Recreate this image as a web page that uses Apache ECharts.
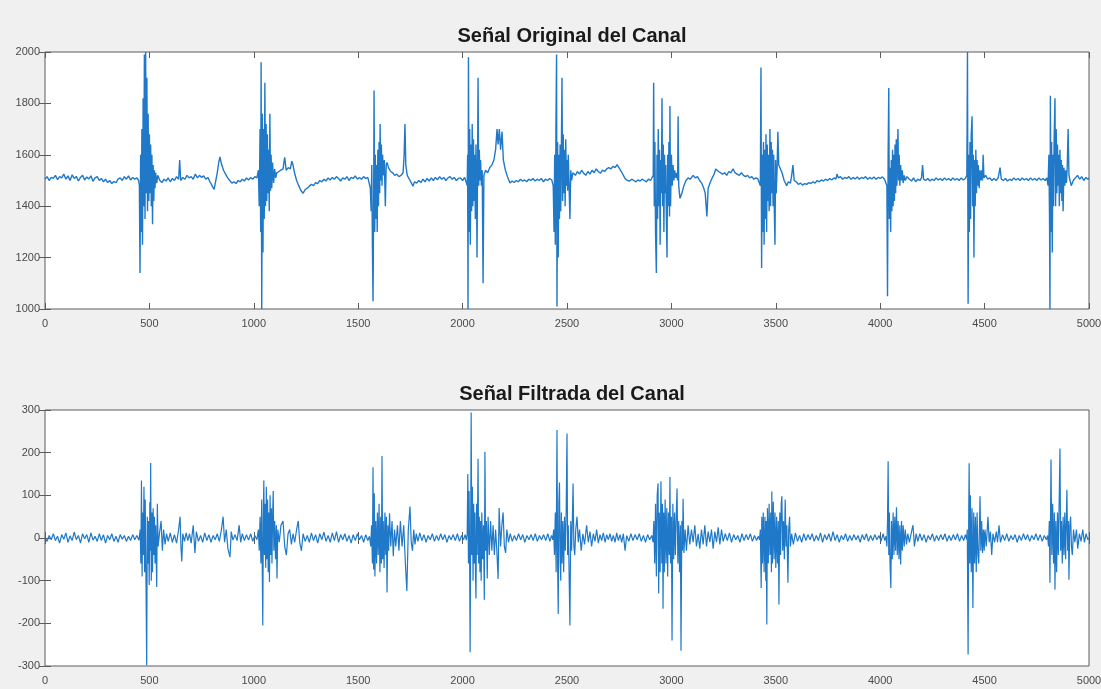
<!DOCTYPE html>
<html>
<head>
<meta charset="utf-8">
<script src="https://cdn.jsdelivr.net/npm/echarts@6/dist/echarts.min.js"></script>
<style>
html,body{margin:0;padding:0;background:#f0f0f0;}
#chart{width:1101px;height:689px;}
</style>
</head>
<body>
<div id="chart"></div>
<script>
const titles = ['Señal Original del Canal', 'Señal Filtrada del Canal'];
const xTicks = [0, 5000, 500];
const yTicksOriginal = [1000, 2000, 200];
const yTicksFiltered = [-300, 300, 100];

const originalSignal = [
[0,1505],[10,1515],[20,1500],[30,1512],[40,1508],[50,1520],[60,1503],[70,1515],[80,1510],[90,1525],[100,1505],[110,1518],[120,1500],[130,1522],[140,1508],[150,1516],[160,1498],[170,1512],[180,1520],[190,1502],[200,1514],[210,1506],[220,1518],[230,1497],[240,1510],[250,1515],[260,1500],[270,1508],[280,1495],[290,1505],[300,1492],[310,1500],[320,1488],[330,1496],[340,1492],[350,1505],[360,1510],[370,1500],[380,1515],[390,1505],[400,1518],[410,1502],[420,1512],[430,1505],[440,1510],[448,1500],
[452,1480],[455,1140],[458,1600],[461,1300],[464,1700],[467,1250],[470,1820],[473,1400],[476,1990],[479,1350],[482,2000],[485,1450],[488,1900],[491,1380],[494,1760],[497,1420],[500,1680],[503,1450],[506,1640],[509,1400],[512,1600],[515,1330],[518,1560],[521,1420],[524,1540],[527,1470],[530,1530],[535,1490],[540,1520],
[550,1500],[560,1492],[570,1505],[580,1498],[590,1510],[600,1495],[610,1508],[620,1500],[630,1515],[640,1505],[645,1580],[650,1500],[660,1512],[670,1505],[680,1520],[690,1510],[700,1515],[710,1505],[720,1525],[730,1510],[740,1520],[750,1512],[760,1518],[770,1505],[780,1512],[790,1495],[800,1480],[810,1465],[815,1460],[825,1530],[832,1570],[838,1592],[845,1565],[855,1540],[865,1525],[875,1510],[885,1500],[895,1490],[905,1495],[915,1488],[925,1500],[935,1495],[945,1505],[955,1498],[965,1510],[975,1502],[985,1512],[995,1505],[1005,1515],[1015,1510],
[1022,1540],[1026,1400],[1030,1700],[1033,1300],[1035,1960],[1038,1000],[1041,1760],[1044,1220],[1047,1700],[1050,1350],[1053,1880],[1056,1400],[1059,1720],[1062,1420],[1065,1680],[1068,1450],[1071,1620],[1074,1380],[1077,1760],[1080,1460],[1083,1600],[1086,1470],[1090,1570],[1095,1490],[1100,1545],[1105,1510],[1110,1530],
[1120,1535],[1130,1540],[1140,1545],[1148,1590],[1155,1540],[1165,1550],[1175,1545],[1182,1575],[1188,1560],[1195,1530],[1205,1500],[1215,1480],[1225,1462],[1236,1450],[1246,1465],[1256,1470],[1266,1478],[1276,1485],[1286,1480],[1296,1492],[1306,1488],[1316,1500],[1326,1495],[1336,1505],[1346,1498],[1356,1510],[1366,1502],[1376,1512],[1386,1505],[1396,1515],[1406,1508],[1416,1498],[1426,1510],[1436,1505],[1446,1515],[1456,1500],[1466,1512],[1476,1508],[1486,1518],[1496,1505],[1506,1512],[1516,1505],[1526,1515],[1536,1508],[1546,1512],[1554,1505],
[1558,1470],[1562,1380],[1565,1560],[1568,1250],[1571,1030],[1574,1420],[1576,1850],[1579,1300],[1582,1600],[1585,1350],[1588,1560],[1591,1300],[1594,1620],[1597,1400],[1600,1650],[1603,1450],[1605,1720],[1608,1500],[1611,1640],[1614,1480],[1617,1600],[1620,1520],[1625,1580],[1630,1400],[1634,1560],[1638,1570],[1645,1550],[1655,1535],[1665,1530],[1675,1520],[1685,1525],[1695,1515],[1705,1520],[1715,1530],[1720,1600],[1724,1720],[1728,1560],[1735,1520],[1745,1505],[1755,1490],[1762,1478],[1770,1495],[1780,1490],[1790,1500],[1800,1492],
[1810,1505],[1820,1495],[1830,1508],[1840,1498],[1850,1510],[1860,1500],[1870,1512],[1880,1503],[1890,1515],[1900,1505],[1910,1512],[1920,1500],[1930,1510],[1940,1515],[1950,1505],[1960,1512],[1970,1500],[1980,1508],[1990,1510],[2000,1500],[2010,1512],[2018,1505],
[2022,1480],[2024,1600],[2026,1000],[2028,1980],[2031,1300],[2034,1700],[2037,1250],[2040,1640],[2043,1380],[2046,1720],[2049,1400],[2052,1660],[2055,1420],[2058,1600],[2061,1350],[2064,1640],[2067,1450],[2069,1200],[2072,1600],[2074,1900],[2077,1480],[2080,1620],[2083,1500],[2086,1580],[2090,1480],[2094,1540],[2098,1100],[2102,1520],[2110,1540],[2120,1530],[2130,1550],[2140,1560],[2150,1580],[2158,1620],[2165,1700],[2170,1640],[2176,1700],[2182,1620],[2189,1690],[2195,1580],[2205,1540],[2215,1515],[2227,1490],[2237,1498],[2247,1492],[2257,1500],[2267,1495],[2277,1505],[2287,1498],[2297,1502],[2307,1495],[2317,1505],[2327,1500],[2337,1508],[2347,1498],[2357,1505],[2367,1500],[2377,1508],[2387,1495],[2397,1505],[2407,1500],[2417,1508],[2427,1502],
[2434,1480],[2438,1300],[2441,1600],[2444,1250],[2447,1700],[2450,1990],[2452,1010],[2455,1650],[2458,1200],[2461,1600],[2464,1350],[2467,1640],[2470,1380],[2473,1620],[2476,1900],[2479,1420],[2482,1680],[2485,1450],[2488,1620],[2491,1400],[2494,1660],[2497,1480],[2500,1580],[2503,1460],[2506,1600],[2510,1480],[2514,1350],[2518,1540],[2522,1500],[2528,1530],
[2540,1520],[2550,1535],[2560,1525],[2570,1540],[2580,1528],[2590,1520],[2600,1535],[2610,1525],[2620,1540],[2630,1530],[2640,1545],[2650,1535],[2660,1528],[2670,1540],[2680,1535],[2690,1545],[2700,1550],[2710,1545],[2720,1555],[2730,1550],[2740,1562],[2750,1548],[2760,1535],[2770,1520],[2780,1505],[2790,1500],[2800,1498],[2810,1505],[2820,1500],[2830,1495],[2840,1502],[2850,1498],[2860,1505],[2870,1500],[2880,1495],[2890,1505],[2900,1500],[2908,1505],
[2913,1520],[2915,1880],[2918,1400],[2921,1650],[2924,1300],[2928,1140],[2931,1600],[2934,1350],[2937,1700],[2940,1400],[2943,1620],[2946,1250],[2949,1580],[2952,1450],[2955,1820],[2958,1400],[2961,1640],[2964,1300],[2967,1600],[2970,1450],[2973,1560],[2976,1350],[2979,1200],[2982,1600],[2985,1400],[2988,1650],[2991,1360],[2993,1790],[2996,1400],[3000,1600],[3004,1480],[3008,1560],[3012,1500],[3016,1540],[3020,1510],[3025,1530],[3030,1500],[3032,1750],[3035,1480],[3041,1430],[3050,1450],[3060,1480],[3070,1500],[3080,1510],[3090,1505],[3104,1520],[3115,1510],[3125,1515],[3135,1500],[3145,1490],[3155,1470],[3162,1450],[3170,1360],[3176,1470],[3185,1490],[3195,1510],[3205,1525],[3212,1545],[3218,1540],[3226,1535],[3235,1530],[3245,1525],[3255,1530],[3265,1520],[3275,1535],[3285,1530],[3295,1545],[3305,1530],[3315,1525],[3325,1520],[3335,1530],[3345,1520],[3355,1515],[3365,1520],[3375,1510],[3385,1515],[3395,1505],[3405,1510],[3415,1505],[3422,1512],
[3426,1480],[3429,1940],[3432,1160],[3435,1600],[3438,1300],[3441,1650],[3444,1250],[3447,1620],[3450,1350],[3453,1680],[3456,1300],[3459,1640],[3462,1420],[3465,1600],[3468,1380],[3472,1700],[3475,1400],[3478,1650],[3481,1450],[3484,1620],[3487,1400],[3490,1600],[3493,1380],[3496,1250],[3499,1580],[3502,1450],[3506,1540],[3510,1690],[3514,1560],[3520,1560],[3530,1530],[3540,1500],[3552,1480],[3560,1495],[3570,1490],[3576,1520],[3582,1560],[3588,1500],[3598,1495],[3608,1485],[3618,1490],[3628,1482],[3638,1488],[3648,1485],[3658,1492],[3668,1488],[3678,1495],[3688,1490],[3698,1500],[3708,1495],[3718,1502],[3728,1498],[3738,1505],[3748,1500],[3758,1508],[3768,1502],[3778,1510],[3788,1505],[3793,1525],[3800,1510],[3810,1515],[3820,1505],[3830,1512],[3840,1508],[3850,1515],[3860,1505],[3870,1512],[3880,1506],[3890,1514],[3900,1505],[3910,1512],[3920,1508],[3930,1515],[3940,1505],[3950,1512],[3960,1506],[3970,1514],[3980,1505],[3990,1512],[4000,1508],[4010,1514],[4020,1506],[4028,1512],
[4032,1480],[4035,1050],[4038,1600],[4041,1860],[4044,1350],[4047,1550],[4050,1300],[4053,1580],[4056,1380],[4059,1620],[4062,1400],[4065,1600],[4068,1420],[4071,1640],[4074,1450],[4077,1660],[4080,1480],[4083,1620],[4085,1700],[4088,1500],[4091,1600],[4094,1480],[4098,1560],[4102,1500],[4106,1540],[4110,1490],[4115,1520],[4120,1500],[4128,1515],[4140,1505],[4150,1498],[4160,1510],[4170,1495],[4180,1505],[4190,1500],[4198,1510],[4203,1560],[4208,1505],[4218,1500],[4228,1508],[4238,1498],[4248,1505],[4258,1500],[4268,1510],[4278,1502],[4288,1508],[4298,1500],[4308,1510],[4318,1502],[4328,1508],[4338,1500],[4348,1510],[4358,1502],[4368,1508],[4378,1500],[4388,1510],[4398,1502],[4408,1508],
[4415,1520],[4418,2000],[4421,1020],[4424,1600],[4427,1300],[4430,1650],[4433,1350],[4436,1680],[4440,1750],[4443,1400],[4446,1600],[4449,1200],[4452,1580],[4455,1400],[4458,1620],[4461,1450],[4464,1580],[4467,1480],[4470,1560],[4474,1470],[4478,1540],[4482,1500],[4486,1540],[4490,1500],[4493,1600],[4497,1510],[4505,1520],[4515,1505],[4525,1510],[4535,1500],[4545,1508],[4555,1500],[4565,1510],[4574,1550],[4580,1505],[4590,1500],[4600,1508],[4610,1498],[4620,1505],[4630,1500],[4640,1510],[4650,1502],[4660,1508],[4670,1500],[4680,1510],[4690,1502],[4700,1508],[4710,1500],[4720,1510],[4730,1502],[4740,1508],[4750,1500],[4760,1510],[4770,1502],[4780,1508],[4790,1500],[4798,1510],
[4804,1480],[4808,1600],[4811,1350],[4813,1000],[4815,1830],[4818,1300],[4821,1650],[4824,1220],[4827,1600],[4830,1400],[4833,1660],[4837,1820],[4840,1400],[4843,1700],[4846,1450],[4849,1640],[4852,1480],[4855,1600],[4858,1400],[4861,1620],[4864,1450],[4867,1580],[4870,1420],[4873,1560],[4876,1380],[4880,1550],[4884,1480],[4888,1540],[4892,1490],[4896,1560],[4900,1700],[4904,1520],[4909,1500],[4915,1480],[4925,1500],[4935,1510],[4945,1520],[4955,1505],[4965,1515],[4975,1500],[4985,1512],[4995,1505],[5000,1510]
];

const filteredSignal = [
[0,2],[10,-8],[20,6],[30,-4],[40,10],[50,-6],[60,4],[70,-12],[80,8],[90,-3],[100,12],[110,-10],[120,5],[130,-6],[140,14],[150,-4],[160,6],[170,-12],[180,10],[190,-2],[200,8],[210,-10],[220,12],[230,-5],[240,4],[250,-8],[260,10],[270,-6],[280,8],[290,-12],[300,6],[310,-4],[320,10],[330,-8],[340,4],[350,-10],[360,8],[370,-3],[380,6],[390,-8],[400,4],[410,-6],[420,8],[430,-4],[440,6],[450,-5],
[456,20],[459,-60],[462,135],[465,-90],[468,60],[471,-40],[474,120],[477,-80],[480,90],[484,-120],[487,-298],[490,50],[493,-60],[496,40],[499,-110],[502,84],[504,-30],[506,176],[509,-100],[512,60],[515,-80],[518,70],[521,-40],[524,50],[527,-60],[530,30],[535,-115],[538,80],[542,-20],
[548,10],[556,40],[562,-30],[568,20],[575,-15],[582,10],[590,-8],[600,12],[610,-10],[620,8],[630,-12],[640,20],[647,50],[651,-20],[655,-55],[660,10],[668,-8],[676,12],[684,-6],[692,10],[700,-12],[710,30],[718,-35],[725,15],[735,-8],[745,6],[755,-10],[765,12],[775,-6],[785,8],[795,-10],[805,6],[815,-4],[825,10],[835,-8],[845,20],[853,50],[860,-10],[868,20],[876,-25],[886,-45],[892,15],[900,-5],[910,8],[920,-6],[930,30],[937,-10],[945,10],[955,-6],[965,8],[975,-5],[985,10],[995,-8],[1005,6],[1015,-4],
[1022,20],[1026,-30],[1030,50],[1034,-60],[1038,90],[1041,-100],[1043,-205],[1046,60],[1048,135],[1051,-40],[1054,80],[1057,-70],[1060,120],[1063,-50],[1066,90],[1069,-80],[1072,60],[1075,-103],[1078,100],[1081,-40],[1084,70],[1087,-60],[1090,50],[1093,110],[1096,-30],[1100,40],[1104,-50],[1108,30],[1111,-95],[1115,20],
[1122,-10],[1130,30],[1140,40],[1148,-20],[1156,-40],[1164,10],[1172,20],[1180,-15],[1188,10],[1196,-10],[1205,20],[1213,40],[1220,-10],[1228,-30],[1236,10],[1246,-8],[1256,6],[1266,-10],[1276,12],[1286,-6],[1296,8],[1306,-12],[1316,10],[1326,-4],[1336,14],[1346,-8],[1356,6],[1366,-10],[1376,12],[1386,-6],[1396,15],[1406,-10],[1416,8],[1426,-4],[1436,10],[1446,-8],[1456,6],[1466,-12],[1476,8],[1486,-6],[1496,10],[1506,-4],[1516,6],[1526,-10],[1536,8],[1546,-6],[1554,4],
[1560,-20],[1564,30],[1568,-60],[1571,166],[1574,-74],[1577,105],[1580,-90],[1584,40],[1588,-60],[1592,60],[1596,-40],[1600,80],[1604,-80],[1608,50],[1611,-60],[1614,192],[1617,-50],[1620,40],[1624,-70],[1628,60],[1632,-40],[1635,50],[1638,-128],[1642,30],[1646,-30],[1650,58],[1656,-20],[1662,40],[1668,-43],[1674,20],[1680,-20],[1688,30],[1695,-30],[1702,40],[1710,-20],[1718,30],[1726,-60],[1733,-124],[1740,20],[1748,74],[1754,-10],[1760,-30],[1766,20],[1772,-15],[1778,10],[1786,-8],
[1795,12],[1805,-6],[1815,8],[1825,-10],[1835,6],[1845,-4],[1855,10],[1865,-8],[1875,6],[1885,-6],[1895,10],[1905,-4],[1915,8],[1925,-10],[1935,6],[1945,-4],[1955,8],[1965,-6],[1975,10],[1985,-8],[1995,6],[2005,-4],[2012,8],[2018,-5],
[2022,10],[2025,150],[2028,-60],[2031,110],[2034,-80],[2036,-268],[2039,60],[2041,294],[2044,-40],[2047,120],[2050,-100],[2053,80],[2056,-60],[2059,60],[2062,-90],[2064,-142],[2067,80],[2070,-40],[2074,186],[2077,-60],[2080,50],[2083,-80],[2086,40],[2089,-100],[2092,60],[2096,-50],[2100,30],[2104,-145],[2107,202],[2110,-30],[2114,40],[2118,-95],[2122,50],[2128,-40],[2134,40],[2140,-30],[2146,30],[2152,-40],[2158,20],[2164,-30],[2170,-96],[2175,70],[2182,-20],[2188,30],[2194,60],[2200,-20],[2206,-35],[2212,20],[2220,-10],[2228,10],
[2238,-8],[2248,6],[2258,-6],[2268,10],[2278,-4],[2288,8],[2298,-10],[2308,6],[2318,-4],[2328,8],[2338,-6],[2348,10],[2358,-8],[2368,6],[2378,-4],[2388,8],[2398,-6],[2408,10],[2418,-8],[2426,6],[2432,-4],
[2436,20],[2440,-40],[2444,60],[2448,-80],[2452,253],[2455,-60],[2458,-178],[2461,80],[2464,130],[2467,-40],[2470,-100],[2473,60],[2476,-60],[2480,40],[2484,-80],[2488,50],[2492,-30],[2496,60],[2500,245],[2503,-40],[2506,30],[2509,-50],[2514,-205],[2518,40],[2522,-30],[2526,50],[2529,128],[2533,-20],[2537,-40],[2542,20],[2548,50],[2554,-10],[2560,20],[2568,-30],
[2576,10],[2584,-15],[2594,30],[2602,-10],[2610,15],[2618,-20],[2626,10],[2634,-8],[2642,20],[2650,-12],[2658,8],[2666,-6],[2674,12],[2682,-10],[2690,8],[2698,-4],[2706,10],[2714,-8],[2722,6],[2730,-10],[2738,12],[2746,-6],[2754,8],[2762,-10],[2770,10],[2778,-30],[2786,6],[2796,-8],[2806,10],[2816,-6],[2826,8],[2836,-4],[2846,10],[2856,-8],[2866,6],[2876,-10],[2886,8],[2896,-4],[2906,6],
[2912,-10],[2916,40],[2920,-60],[2924,80],[2928,-90],[2932,100],[2936,128],[2939,-130],[2942,60],[2946,-80],[2950,133],[2954,-60],[2957,80],[2960,-166],[2963,60],[2966,-80],[2970,90],[2974,-60],[2978,70],[2982,-90],[2986,60],[2990,-40],[2993,143],[2996,-60],[3000,50],[3003,-240],[3007,80],[3011,-50],[3015,60],[3019,-40],[3023,50],[3027,116],[3031,-60],[3035,40],[3039,-80],[3043,30],[3046,-264],[3050,40],[3053,-30],[3056,92],[3060,-35],[3066,20],[3072,-30],[3080,30],[3088,-15],[3096,20],[3104,-10],[3112,30],[3120,-20],[3128,10],[3136,-25],[3144,20],[3152,-15],[3160,30],[3168,-20],[3176,15],[3184,-10],[3192,20],[3200,-25],[3208,15],[3216,-10],[3224,25],[3232,-15],[3240,20],[3248,-8],[3258,10],[3268,-6],[3278,12],[3288,-10],[3298,8],[3308,-4],[3318,6],[3328,-10],[3338,10],[3348,-6],[3358,8],[3368,-4],[3378,10],[3388,-8],[3398,6],[3408,-6],[3416,4],[3422,-4],
[3426,20],[3430,-117],[3433,50],[3436,-60],[3440,60],[3444,-80],[3448,50],[3452,-100],[3454,40],[3457,-203],[3460,70],[3464,-60],[3468,80],[3472,-40],[3476,60],[3479,-80],[3481,109],[3484,-60],[3488,85],[3492,-50],[3496,60],[3500,-70],[3504,50],[3508,-60],[3512,40],[3515,-156],[3519,60],[3523,-40],[3526,80],[3529,98],[3533,-30],[3537,40],[3541,-50],[3545,90],[3549,-20],[3553,30],[3558,-105],[3562,20],[3566,50],[3570,-20],[3576,10],[3584,-15],
[3594,12],[3604,-8],[3614,6],[3624,-10],[3634,10],[3644,-6],[3654,8],[3664,-4],[3674,10],[3684,-8],[3694,6],[3704,-6],[3714,12],[3724,-10],[3734,8],[3744,-4],[3754,10],[3764,-8],[3774,15],[3784,-6],[3794,8],[3804,-10],[3814,6],[3824,-4],[3834,10],[3844,-8],[3854,6],[3864,-6],[3874,8],[3884,-4],[3894,6],[3904,-10],[3914,8],[3924,-4],[3934,10],[3944,-8],[3954,6],[3964,-6],[3974,8],[3984,-4],[3994,6],[4004,-8],[4014,10],[4022,-6],[4028,4],
[4032,-20],[4035,40],[4038,180],[4041,-40],[4044,60],[4047,-60],[4051,-117],[4054,40],[4058,-50],[4062,60],[4066,-40],[4070,50],[4074,-30],[4078,72],[4082,-40],[4086,40],[4090,-50],[4094,30],[4098,-62],[4102,40],[4106,-30],[4110,30],[4115,-20],[4120,20],[4126,-15],[4132,10],[4140,-10],[4150,15],[4157,30],[4164,-20],[4172,10],[4180,-8],
[4190,10],[4200,-6],[4210,8],[4220,-10],[4230,6],[4240,-4],[4250,10],[4260,-8],[4270,6],[4280,-6],[4290,8],[4300,-4],[4310,10],[4320,-8],[4330,6],[4340,-6],[4350,8],[4360,-4],[4370,10],[4380,-8],[4390,6],[4400,-6],[4408,8],[4414,-4],
[4417,20],[4421,-273],[4424,60],[4426,175],[4429,-60],[4432,100],[4436,-80],[4440,70],[4444,-164],[4448,60],[4452,-60],[4456,50],[4460,-80],[4464,60],[4468,-40],[4472,-60],[4476,40],[4478,98],[4482,-30],[4486,40],[4490,-35],[4494,20],[4498,-30],[4502,20],[4508,-20],[4516,50],[4522,-10],[4528,15],[4534,-40],[4540,10],[4548,-10],[4556,15],[4562,-10],[4569,30],[4576,-10],
[4586,8],[4596,-6],[4606,10],[4616,-8],[4626,6],[4636,-4],[4646,8],[4656,-10],[4666,6],[4676,-6],[4686,10],[4696,-4],[4706,8],[4716,-8],[4726,6],[4736,-4],[4746,10],[4756,-6],[4766,8],[4776,-8],[4786,6],[4796,-4],[4802,6],
[4806,-20],[4810,40],[4813,-105],[4816,60],[4818,184],[4822,-40],[4826,80],[4830,-60],[4834,60],[4837,-121],[4841,40],[4845,-80],[4849,60],[4853,-40],[4857,80],[4861,210],[4864,-30],[4868,40],[4872,-60],[4876,50],[4880,-40],[4884,60],[4888,-50],[4891,30],[4894,113],[4898,-30],[4901,40],[4904,-98],[4908,30],[4912,50],[4916,-20],[4920,-40],[4926,20],[4932,-10],[4940,20],[4946,-25],[4954,10],[4962,-8],[4970,20],[4978,-10],[4986,10],[4994,-4],[5000,0]
];

const chart = echarts.init(document.getElementById('chart'), null, {renderer: 'canvas'});
const lineColor = '#1f78c8';
const boxColor = '#5c5c5c';
const labelStyle = {color: '#4a4a4a', fontSize: 11, fontFamily: 'Liberation Sans, Arial, sans-serif',
  formatter: function (v) { return String(v); }};

function xAx(grid, pos, showLabel) {
  return {
    type: 'value', gridIndex: grid, position: pos, min: xTicks[0], max: xTicks[1], interval: xTicks[2],
    axisLine: {show: false}, splitLine: {show: false},
    axisTick: {show: true, inside: true, length: 6, lineStyle: {color: boxColor}},
    axisLabel: Object.assign({show: showLabel, margin: 9}, labelStyle)
  };
}
function yAx(grid, pos, ticks, showLabel) {
  return {
    type: 'value', gridIndex: grid, position: pos, min: ticks[0], max: ticks[1], interval: ticks[2],
    axisLine: {show: false}, splitLine: {show: false},
    axisTick: {show: true, inside: true, length: 6, lineStyle: {color: boxColor}},
    axisLabel: Object.assign({show: showLabel, margin: 5}, labelStyle)
  };
}

const titleStyle = {fontSize: 20, fontWeight: 'bold', color: '#1a1a1a', fontFamily: 'Liberation Sans, Arial, sans-serif'};

chart.setOption({
  backgroundColor: '#f0f0f0',
  animation: false,
  title: [
    {text: titles[0], left: 567, top: 21, textAlign: 'center', textStyle: titleStyle},
    {text: titles[1], left: 567, top: 379, textAlign: 'center', textStyle: titleStyle}
  ],
  grid: [
    {left: 45, top: 52, width: 1044, height: 257, outerBoundsMode: 'none', containLabel: false,
     show: true, backgroundColor: '#ffffff', borderColor: boxColor, borderWidth: 1},
    {left: 45, top: 410, width: 1044, height: 256, outerBoundsMode: 'none', containLabel: false,
     show: true, backgroundColor: '#ffffff', borderColor: boxColor, borderWidth: 1}
  ],
  xAxis: [xAx(0, 'bottom', true), xAx(0, 'top', false), xAx(1, 'bottom', true), xAx(1, 'top', false)],
  yAxis: [yAx(0, 'left', yTicksOriginal, true), yAx(0, 'right', yTicksOriginal, false),
          yAx(1, 'left', yTicksFiltered, true), yAx(1, 'right', yTicksFiltered, false)],
  series: [
    {type: 'line', name: titles[0], xAxisIndex: 0, yAxisIndex: 0, data: originalSignal, showSymbol: false, symbol: 'none',
     clip: true, lineStyle: {color: lineColor, width: 1.4}},
    {type: 'line', name: titles[1], xAxisIndex: 2, yAxisIndex: 2, data: filteredSignal, showSymbol: false, symbol: 'none',
     clip: true, lineStyle: {color: lineColor, width: 1.2}}
  ]
});
</script>
</body>
</html>
